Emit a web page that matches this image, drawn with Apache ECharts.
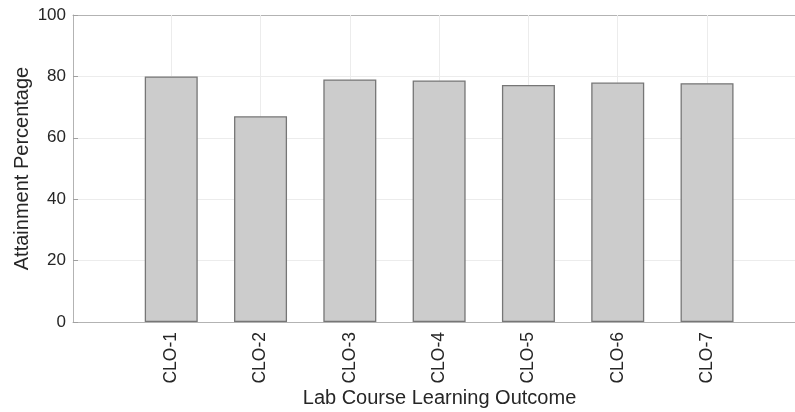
<!DOCTYPE html>
<html>
<head>
<meta charset="utf-8">
<script src="https://cdn.jsdelivr.net/npm/echarts@6/dist/echarts.min.js"></script>
<style>html,body{margin:0;padding:0;background:#fff;}#c{width:795px;height:412px;}</style>
</head>
<body>
<div id="c"></div>
<script>
const categories = ['CLO-1', 'CLO-2', 'CLO-3', 'CLO-4', 'CLO-5', 'CLO-6', 'CLO-7'];
const values = [80, 67, 79, 78.7, 77.2, 78, 77.8];
const yTicks = [0, 20, 40, 60, 80, 100];
const xTitle = 'Lab Course Learning Outcome';
const yTitle = 'Attainment Percentage';

const positions = categories.map((c, i) => i + 1);
const font = 'Liberation Sans, Arial, Helvetica, sans-serif';
const chart = echarts.init(document.getElementById('c'), null, {renderer: 'canvas'});
chart.setOption({
  animation: false,
  grid: {left: 73, top: 15, bottom: 90, right: 0, show: false, outerBoundsMode: 'none', containLabel: false},
  xAxis: [{
    type: 'value', min: -0.1, max: 7.985, position: 'bottom',
    name: xTitle, nameLocation: 'middle', nameGap: 66, nameMoveOverlap: false,
    nameTextStyle: {fontFamily: font, fontSize: 20, color: '#262626', padding: [0, 0, 0, 11]},
    axisLine: {show: true, onZero: false, lineStyle: {color: '#b3b3b3', width: 1}},
    axisTick: {show: true, inside: true, length: 5, customValues: positions, lineStyle: {color: '#b3b3b3'}},
    axisLabel: {customValues: positions, rotate: 90, margin: 10, fontFamily: font, fontSize: 17.5, color: '#262626',
      formatter: v => categories[Math.round(v) - 1] || ''},
    splitLine: {show: false}
  }, {
    type: 'value', min: -0.1, max: 7.985, position: 'top',
    axisLine: {show: true, onZero: false, lineStyle: {color: '#b3b3b3', width: 1}},
    axisTick: {show: true, inside: true, length: 5, customValues: positions, lineStyle: {color: '#a0a0a0'}},
    axisLabel: {show: false},
    splitLine: {show: false}
  }],
  yAxis: {
    type: 'value', min: 0, max: 100, interval: 20,
    name: yTitle, nameLocation: 'middle', nameGap: 41, nameRotate: 90, nameMoveOverlap: false,
    nameTextStyle: {fontFamily: font, fontSize: 20, color: '#262626'},
    axisLine: {show: true, onZero: false, lineStyle: {color: '#b3b3b3', width: 1}},
    axisTick: {show: true, inside: true, length: 5, lineStyle: {color: '#a0a0a0'}},
    axisLabel: {margin: 7, fontFamily: font, fontSize: 17, color: '#262626',
      formatter: v => yTicks.includes(v) ? String(v) : ''},
    splitLine: {show: true, lineStyle: {color: '#ececec', width: 1}}
  },
  series: [{
    type: 'scatter', xAxisIndex: 0, data: [], z: 1, silent: true,
    markLine: {
      z: 1, silent: true, symbol: 'none', label: {show: false},
      lineStyle: {color: '#ececec', width: 1, type: 'solid'},
      data: positions.map(p => ({xAxis: p}))
    }
  }, {
    type: 'bar', xAxisIndex: 0, barWidth: 53, z: 3,
    data: values.map((v, i) => [positions[i], v]),
    itemStyle: {color: '#cccccc', borderColor: '#767676', borderWidth: 1.3}
  }]
});
</script>
</body>
</html>
